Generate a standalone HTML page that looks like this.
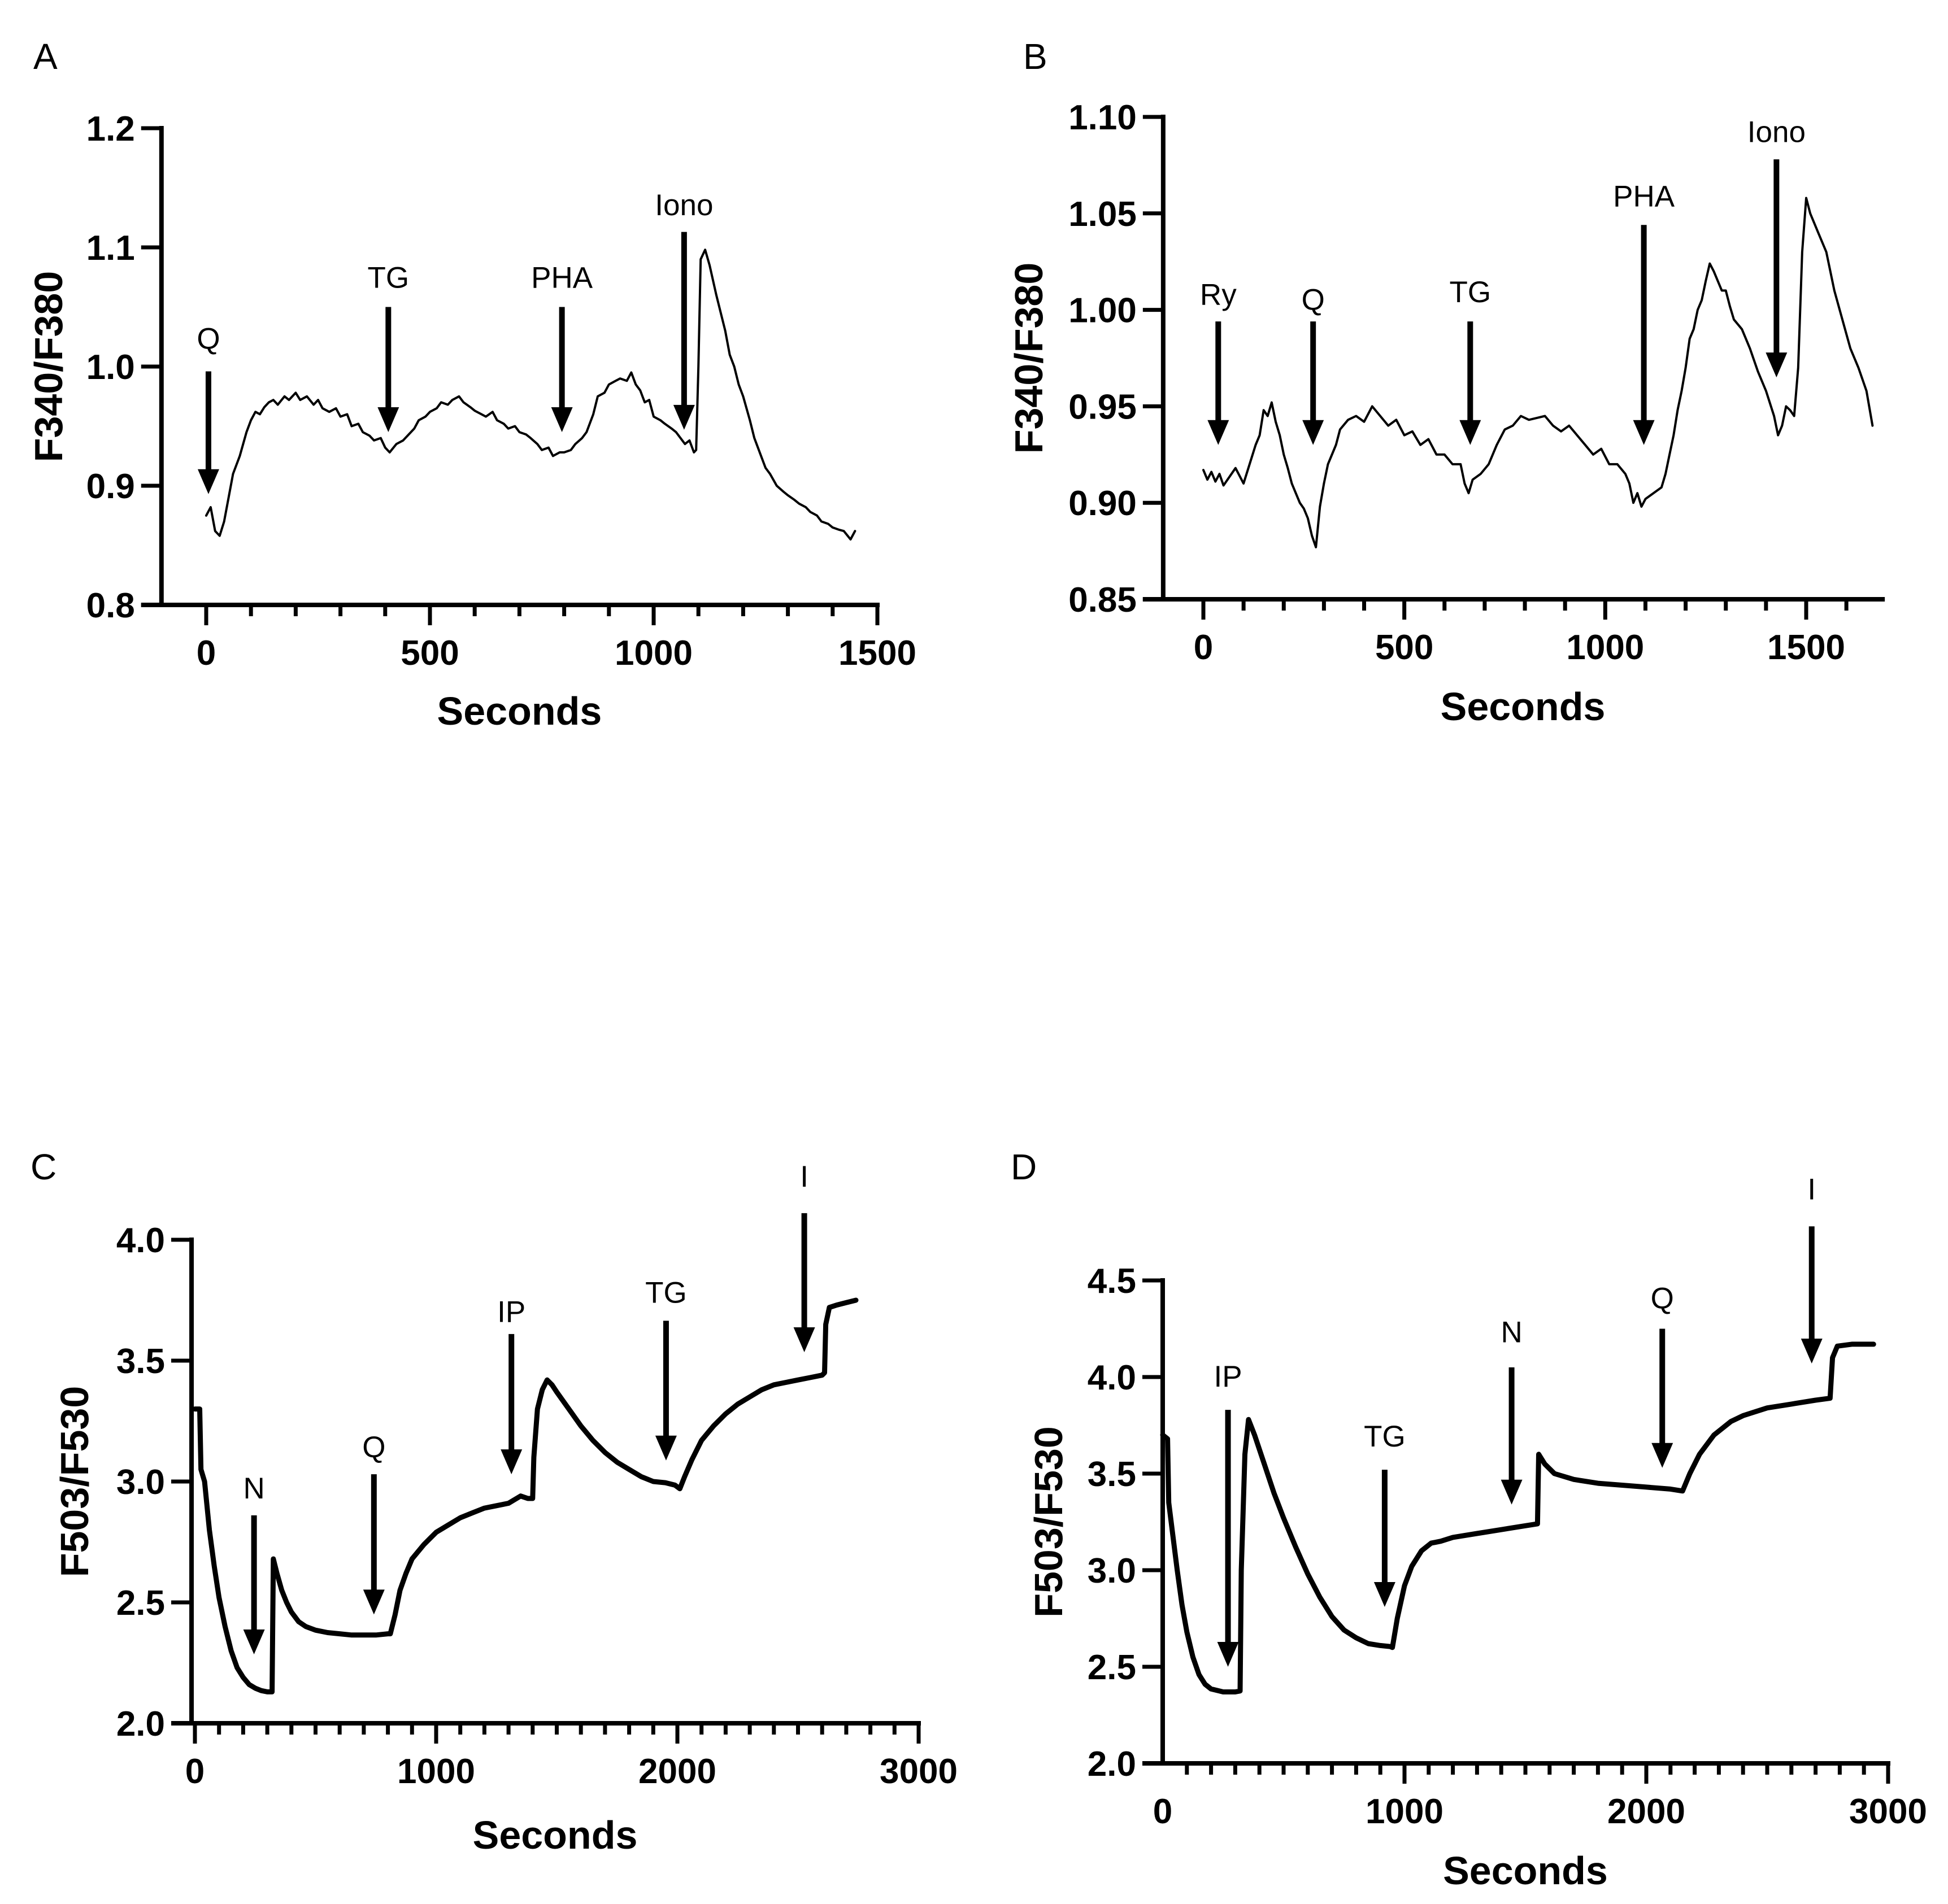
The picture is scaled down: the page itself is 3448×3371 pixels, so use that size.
<!DOCTYPE html>
<html><head><meta charset="utf-8"><style>
html,body{margin:0;padding:0;background:#fff}
svg{display:block}
text{font-family:"Liberation Sans",Arial,sans-serif;fill:#000}
</style></head><body>
<svg id="fig" width="3448" height="3371" viewBox="0 0 3448 3371" xmlns="http://www.w3.org/2000/svg">
<rect width="3448" height="3371" fill="#fff"/>
</svg>
<script>
// ---- Panel A data ----
const aX = [0,10,20,30,40,50,60,75,90,100,110,120,130,140,150,160,175,185,200,210,225,240,250,260,275,290,300,315,325,340,350,365,375,390,400,410,425,440,450,465,475,490,500,515,525,540,550,565,575,590,600,615,625,640,650,665,675,690,700,715,725,740,750,765,775,790,800,815,825,840,850,865,875,890,900,915,925,940,950,960,970,980,990,1000,1015,1025,1040,1050,1060,1070,1080,1090,1095,1100,1105,1115,1125,1140,1150,1160,1170,1180,1190,1200,1215,1225,1240,1250,1260,1275,1290,1300,1315,1325,1340,1350,1365,1375,1390,1400,1415,1425,1440,1450];
const aY = [0.875,0.882,0.862,0.858,0.87,0.89,0.91,0.925,0.945,0.955,0.962,0.96,0.966,0.97,0.972,0.968,0.975,0.972,0.978,0.972,0.975,0.968,0.972,0.965,0.962,0.965,0.958,0.96,0.95,0.952,0.945,0.942,0.938,0.94,0.932,0.928,0.935,0.938,0.942,0.948,0.955,0.958,0.962,0.965,0.97,0.968,0.972,0.975,0.97,0.966,0.963,0.96,0.958,0.962,0.955,0.952,0.948,0.95,0.945,0.943,0.94,0.935,0.93,0.932,0.925,0.928,0.928,0.93,0.935,0.94,0.945,0.96,0.975,0.978,0.985,0.988,0.99,0.988,0.995,0.985,0.98,0.97,0.972,0.958,0.955,0.952,0.948,0.945,0.94,0.935,0.938,0.928,0.93,1.0,1.09,1.098,1.085,1.06,1.045,1.03,1.01,1.0,0.985,0.975,0.955,0.94,0.925,0.915,0.91,0.9,0.895,0.892,0.888,0.885,0.882,0.878,0.875,0.87,0.868,0.865,0.863,0.862,0.855,0.862];
const aXTicks = [0,500,1000,1500];
const aYTicks = [0.8,0.9,1.0,1.1,1.2];
const aYLabels = ["0.8","0.9","1.0","1.1","1.2"];
const aArrowNames = ["Q","TG","PHA","Iono"];
const aArrowX = [5,407,795,1068];
const aArrowTop = [0.996,1.050,1.050,1.113];
const aArrowTip = [0.893,0.945,0.945,0.947];
const aLabelY = [1.015,1.066,1.066,1.127];

// ---- Panel B data ----
const bX = [0,10,20,30,40,50,60,80,100,115,130,140,150,160,170,180,190,200,210,220,230,240,250,260,270,280,290,300,310,320,330,340,360,380,400,420,440,460,480,500,520,540,560,580,600,620,640,650,660,670,690,710,730,750,770,790,810,830,850,870,890,910,930,950,970,990,1010,1030,1050,1060,1070,1080,1090,1100,1120,1140,1150,1160,1170,1180,1190,1200,1210,1220,1230,1240,1250,1260,1270,1280,1290,1300,1310,1320,1340,1360,1380,1400,1420,1430,1440,1450,1460,1470,1480,1490,1500,1510,1520,1530,1550,1570,1590,1610,1630,1650,1665];
const bY = [0.917,0.912,0.916,0.911,0.915,0.909,0.912,0.918,0.91,0.92,0.93,0.935,0.948,0.945,0.952,0.942,0.935,0.925,0.918,0.91,0.905,0.9,0.897,0.892,0.883,0.877,0.898,0.91,0.92,0.925,0.93,0.938,0.943,0.945,0.942,0.95,0.945,0.94,0.943,0.935,0.937,0.93,0.933,0.925,0.925,0.92,0.92,0.91,0.905,0.912,0.915,0.92,0.93,0.938,0.94,0.945,0.943,0.944,0.945,0.94,0.937,0.94,0.935,0.93,0.925,0.928,0.92,0.92,0.915,0.91,0.9,0.905,0.898,0.902,0.905,0.908,0.915,0.925,0.935,0.948,0.958,0.97,0.985,0.99,1.0,1.005,1.015,1.024,1.02,1.015,1.01,1.01,1.002,0.995,0.99,0.98,0.968,0.958,0.945,0.935,0.94,0.95,0.948,0.945,0.97,1.03,1.058,1.05,1.045,1.04,1.03,1.01,0.995,0.98,0.97,0.958,0.94];
const bXTicks = [0,500,1000,1500];
const bYTicks = [0.85,0.90,0.95,1.00,1.05,1.10];
const bYLabels = ["0.85","0.90","0.95","1.00","1.05","1.10"];
const bArrowNames = ["Ry","Q","TG","PHA","Iono"];
const bArrowX = [37,273,664,1096,1426];
const bArrowTop = [0.994,0.994,0.994,1.044,1.078];
const bArrowTip = [0.930,0.930,0.930,0.930,0.965];
const bLabelY = [1.0026,1.0,1.004,1.0536,1.087];

// ---- Panel C data ----
const cX = [0,10,20,25,40,60,80,100,125,150,175,200,225,250,275,300,320,325,340,360,380,400,430,460,500,550,600,650,700,750,800,810,830,850,875,900,950,1000,1050,1100,1150,1200,1250,1300,1350,1380,1400,1405,1420,1440,1460,1480,1500,1550,1600,1650,1700,1750,1800,1850,1900,1950,1990,2010,2030,2060,2100,2150,2200,2250,2300,2350,2400,2450,2500,2550,2600,2610,2615,2630,2660,2700,2740];
const cY = [3.30,3.30,3.30,3.05,3.0,2.8,2.65,2.52,2.40,2.30,2.23,2.19,2.16,2.145,2.135,2.13,2.13,2.68,2.62,2.55,2.50,2.46,2.42,2.40,2.385,2.375,2.37,2.365,2.365,2.365,2.37,2.37,2.45,2.55,2.62,2.68,2.74,2.79,2.82,2.85,2.87,2.89,2.90,2.91,2.94,2.93,2.93,3.10,3.30,3.38,3.42,3.40,3.37,3.30,3.23,3.17,3.12,3.08,3.05,3.02,3.0,2.995,2.985,2.97,3.02,3.09,3.17,3.23,3.28,3.32,3.35,3.38,3.40,3.41,3.42,3.43,3.44,3.45,3.65,3.72,3.73,3.74,3.75];
const cXTicks = [0,1000,2000,3000];
const cYTicks = [2.0,2.5,3.0,3.5,4.0];
const cYLabels = ["2.0","2.5","3.0","3.5","4.0"];
const cArrowNames = ["N","Q","IP","TG","I"];
const cArrowX = [245,742,1312,1953,2526];
const cArrowTop = [2.86,3.03,3.61,3.665,4.11];
const cArrowTip = [2.285,2.45,3.03,3.087,3.535];
const cLabelY = [2.93,3.10,3.66,3.74,4.22];

// ---- Panel D data ----
const dX = [0,20,25,40,60,80,100,125,150,175,200,250,300,320,325,340,355,380,420,460,500,550,600,650,700,750,800,850,900,940,950,970,1000,1030,1070,1110,1150,1200,1300,1400,1500,1550,1555,1580,1620,1700,1800,1900,2000,2100,2150,2180,2220,2280,2350,2400,2500,2600,2700,2760,2770,2790,2850,2940];
const dY = [3.70,3.68,3.35,3.2,3.0,2.82,2.68,2.55,2.46,2.41,2.385,2.37,2.37,2.375,3.0,3.6,3.78,3.70,3.55,3.40,3.27,3.12,2.98,2.86,2.76,2.69,2.65,2.62,2.61,2.605,2.60,2.75,2.92,3.02,3.10,3.14,3.15,3.17,3.19,3.21,3.23,3.24,3.60,3.55,3.50,3.47,3.45,3.44,3.43,3.42,3.41,3.50,3.60,3.70,3.77,3.80,3.84,3.86,3.88,3.89,4.10,4.16,4.17,4.17];
const dXTicks = [0,1000,2000,3000];
const dYTicks = [2.0,2.5,3.0,3.5,4.0,4.5];
const dYLabels = ["2.0","2.5","3.0","3.5","4.0","4.5"];
const dArrowNames = ["IP","TG","N","Q","I"];
const dArrowX = [270,918,1443,2066,2684];
const dArrowTop = [3.83,3.52,4.05,4.25,4.78];
const dArrowTip = [2.50,2.81,3.34,3.53,4.07];
const dLabelY = [3.95,3.64,4.18,4.355,4.92];

const NS = "http://www.w3.org/2000/svg";
const svg = document.getElementById("fig");
function mk(tag, attrs, parent){
  const e = document.createElementNS(NS, tag);
  for (const k in attrs) e.setAttribute(k, attrs[k]);
  (parent||svg).appendChild(e);
  return e;
}

function panel(p){
  const g = mk("g", {});
  
  
  const sx = v => p.px0 + (v - p.x0) * (p.px1 - p.px0) / (p.x1 - p.x0);
  const sy = v => p.py0 - (v - p.y0) * (p.py0 - p.py1) / (p.y1 - p.y0);
  const axX = sx(p.axisX), axEnd = sx(p.xEnd);
  const yBot = sy(p.y0), yTop = sy(p.y1);
  const L = mk("text", {x:p.letterX, y:p.letterY, "font-size":64}, g);
  L.textContent = p.id.toUpperCase();
  
  
  const ya = mk("line", {x1:axX, y1:yTop-4, x2:axX, y2:yBot+4, stroke:"#000","stroke-width":8}, g);
  
  
  const xa = mk("line", {x1:axX-36, y1:yBot, x2:axEnd+4, y2:yBot, stroke:"#000","stroke-width":8}, g);
  
  
  p.yTicks.forEach((v,i)=>{
    const y = sy(v);
    const t = mk("line", {x1:axX-36, y1:y, x2:axX, y2:y, stroke:"#000","stroke-width":7}, g);
    
    
    const tl = mk("text", {x:axX-47, y:y+22, "font-size":62, "font-weight":"bold", "text-anchor":"end"}, g);
    tl.textContent = p.yLabels[i];
    
    
  });
  for (let v = p.minorStart; v <= p.xEnd + 0.01; v += p.minor){
    if (Math.abs(sx(v) - axX) < 3) continue;
    const major = p.xTicks.indexOf(v) >= 0;
    const x = sx(v);
    const t = mk("line", {x1:x, y1:yBot, x2:x, y2:yBot + (major?36:20), stroke:"#000","stroke-width":7}, g);
    
    
  }
  p.xTicks.forEach(v=>{
    const tl = mk("text", {x:sx(v), y:yBot+106, "font-size":62, "font-weight":"bold", "text-anchor":"middle"}, g);
    tl.textContent = String(v);
    
    
  });
  const xt = mk("text", {x:(axX-36+axEnd)/2+18, y:yBot+p.xTitleOff, "font-size":70, "font-weight":"bold", "text-anchor":"middle"}, g);
  xt.textContent = "Seconds";
  
  
  const cy = (yTop+yBot)/2;
  const yt = mk("text", {x:0, y:0, "font-size":70, "font-weight":"bold", "text-anchor":"middle", transform:`translate(${p.yTitleX},${cy}) rotate(-90)`}, g);
  yt.textContent = p.yTitle;
  
  
  let d = "";
  p.xs.forEach((v,i)=>{ d += (i?"L":"M") + sx(v).toFixed(1) + "," + sy(p.ys[i]).toFixed(1); });
  const path = mk("path", {d:d, fill:"none", stroke:"#000", "stroke-width":p.lw, "stroke-linejoin":"round", "stroke-linecap":"round"}, g);
  
  
  p.aNames.forEach((n,i)=>{
    const x = sx(p.aX[i]), top = sy(p.aTop[i]), tip = sy(p.aTip[i]);
    const ag = mk("g", {}, g);
    
    
    mk("line", {x1:x, y1:top, x2:x, y2:tip-40, stroke:"#000","stroke-width":10}, ag);
    mk("polygon", {points:`${x-19},${tip-44} ${x+19},${tip-44} ${x},${tip}`, fill:"#000"}, ag);
    const lt = mk("text", {x:x, y:sy(p.aLab[i]), "font-size":53, "text-anchor":"middle"}, ag);
    lt.textContent = n;
    
    
  });
}

panel({id:"a", x0:0, x1:1500, px0:365, px1:1553, y0:0.8, y1:1.2, py0:1071, py1:227,
  axisX:-100, xEnd:1500, minor:100, minorStart:-100, xTicks:aXTicks, yTicks:aYTicks, yLabels:aYLabels,
  letterX:59, letterY:122, yTitleX:110, yTitle:"F340/F380", xTitleOff:212, lw:4,
  xs:aX, ys:aY, aNames:aArrowNames, aX:aArrowX, aTop:aArrowTop, aTip:aArrowTip, aLab:aLabelY});
panel({id:"b", x0:0, x1:1500, px0:2130, px1:3197, y0:0.85, y1:1.10, py0:1061, py1:207,
  axisX:-100, xEnd:1690, minor:100, minorStart:-100, xTicks:bXTicks, yTicks:bYTicks, yLabels:bYLabels,
  letterX:1811, letterY:122, yTitleX:1845, yTitle:"F340/F380", xTitleOff:214, lw:4,
  xs:bX, ys:bY, aNames:bArrowNames, aX:bArrowX, aTop:bArrowTop, aTip:bArrowTip, aLab:bLabelY});
panel({id:"c", x0:0, x1:3000, px0:345, px1:1626, y0:2.0, y1:4.0, py0:3051, py1:2195,
  axisX:-14, xEnd:3000, minor:100, minorStart:0, xTicks:cXTicks, yTicks:cYTicks, yLabels:cYLabels,
  letterX:54, letterY:2088, yTitleX:156, yTitle:"F503/F530", xTitleOff:222, lw:9,
  xs:cX, ys:cY, aNames:cArrowNames, aX:cArrowX, aTop:cArrowTop, aTip:cArrowTip, aLab:cLabelY});
panel({id:"d", x0:0, x1:3000, px0:2058, px1:3342, y0:2.0, y1:4.5, py0:3122, py1:2267,
  axisX:0, xEnd:3000, minor:100, minorStart:0, xTicks:dXTicks, yTicks:dYTicks, yLabels:dYLabels,
  letterX:1789, letterY:2088, yTitleX:1880, yTitle:"F503/F530", xTitleOff:214, lw:9,
  xs:dX, ys:dY, aNames:dArrowNames, aX:dArrowX, aTop:dArrowTop, aTip:dArrowTip, aLab:dLabelY});
</script>
</body></html>
